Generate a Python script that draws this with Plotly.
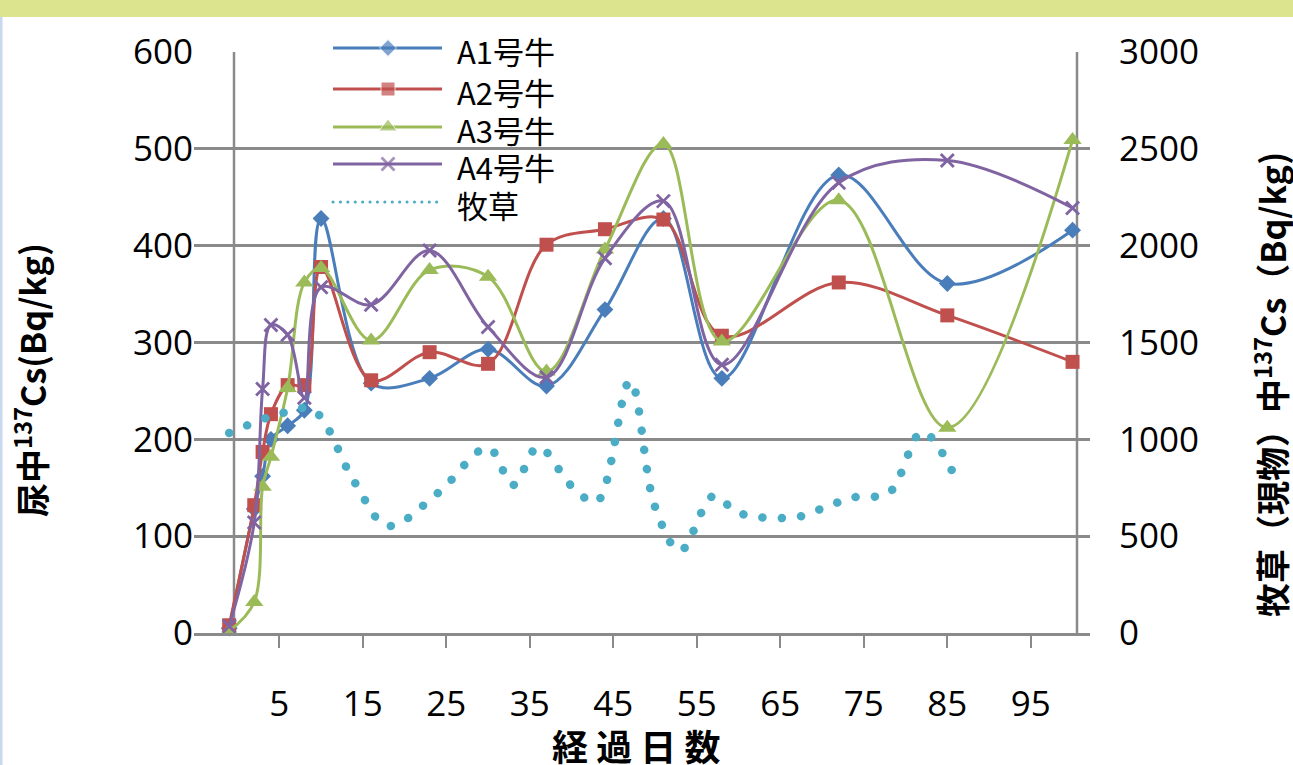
import plotly.graph_objects as go

# ---- data -------------------------------------------------------------
days = [-1, 2, 3, 4, 6, 8, 10, 16, 23, 30, 37, 44, 51, 58, 72, 85, 100]
a1 = [5, 128, 162, 200, 214, 230, 428, 258, 263, 293, 255, 334, 428, 263, 473, 361, 416]
a2 = [8, 132, 187, 226, 256, 256, 378, 261, 290, 278, 401, 417, 427, 307, 362, 328, 280]
a3 = [2, 32, 151, 182, 253, 362, 377, 302, 375, 368, 270, 396, 505, 301, 447, 212, 509]
a4 = [7, 114, 252, 318, 308, 243, 357, 339, 395, 316, 264, 387, 446, 277, 465, 488, 439]

grass_days = [-1, 5, 9, 14, 18, 24, 30, 33, 36, 40, 43, 47, 50, 53, 57, 60, 67, 71, 74, 78, 82, 86]
grass_vals = [1033, 1131, 1152, 780, 553, 723, 956, 764, 961, 759, 677, 1302, 651, 424, 708, 620,
              599, 661, 702, 723, 1038, 800]

cow_names = ["A1号牛", "A2号牛", "A3号牛", "A4号牛"]
grass_name = "牧草"
x_ticks = [5, 15, 25, 35, 45, 55, 65, 75, 85, 95]
left_ticks = [0, 100, 200, 300, 400, 500, 600]
right_ticks = [0, 500, 1000, 1500, 2000, 2500, 3000]

# ---- styling ----------------------------------------------------------
colors = ["#4a7ebb", "#c0504d", "#9bbb59", "#8064a2"]
grass_color = "#4bacc6"
symbols = ["diamond", "square", "triangle-up", "x-thin"]
sizes = [13, 14, 16, 13]
grid_color = "#8a8a8a"
latin = "Open Sans, Noto Sans CJK JP, sans-serif"
cjk = "Noto Sans CJK JP, sans-serif"

W, H = 1293, 765
L, R, T, B = 194, 203, 20, 132
plot_w, plot_h = W - L - R, H - T - B


def px_x(px):
    return (px - L) / plot_w


def px_y(py):
    return (H - B - py) / plot_h


main_top = px_y(52)

fig = go.Figure()

for name, vals, c, s, sz in zip(cow_names, [a1, a2, a3, a4], colors, symbols, sizes):
    mk = dict(symbol=s, size=sz, color=c)
    if s == "x-thin":
        mk["line"] = dict(width=2.8, color=c)
    fig.add_trace(go.Scatter(
        x=days, y=vals, name=name, mode="lines+markers",
        line=dict(color=c, width=3, shape="spline", smoothing=1),
        marker=mk, cliponaxis=False, showlegend=False))

fig.add_trace(go.Scatter(
    x=grass_days, y=grass_vals, name=grass_name, mode="lines", yaxis="y2",
    line=dict(color=grass_color, width=8.5, shape="spline", smoothing=1, dash="0.1px,19.2px"),
    showlegend=False))

# ---- legend keys on a free-standing pixel-scaled axis -----------------
rows = [48, 89, 127, 164, 202]
key_x0, key_mid, key_x1, text_x = 333, 388, 442, 455
for i, (name, c, s, sz) in enumerate(zip(cow_names, colors, symbols, sizes)):
    mk = dict(symbol=s, size=[0, sz, 0], color=c)
    if s == "x-thin":
        mk["line"] = dict(width=2.8, color=c)
    fig.add_trace(go.Scatter(
        x=[key_x0, key_mid, key_x1], y=[rows[i]] * 3, xaxis="x3", yaxis="y3",
        mode="lines+markers", line=dict(color=c, width=3), marker=mk,
        cliponaxis=False, showlegend=False, hoverinfo="skip"))
fig.add_trace(go.Scatter(
    x=[key_x0, key_x1], y=[rows[4]] * 2, xaxis="x3", yaxis="y3", mode="lines",
    line=dict(color=grass_color, width=3, dash="0.1px,7.3px"),
    showlegend=False, hoverinfo="skip"))

annotations = []
for name, yy in zip(cow_names + [grass_name], rows):
    annotations.append(dict(x=text_x, y=yy + 2, xref="x3", yref="y3", text=name,
                            showarrow=False, xanchor="left", yanchor="middle",
                            font=dict(family=cjk, size=31, color="#000")))

# axis titles
annotations.append(dict(x=px_x(30), y=px_y(380), xref="paper", yref="paper",
                        xanchor="center", yanchor="middle",
                        text="<b>尿中<sup>137</sup>Cs(Bq/kg)</b>", textangle=-90,
                        showarrow=False, font=dict(family=cjk, size=34, color="#000")))
annotations.append(dict(x=px_x(1270), y=px_y(385), xref="paper", yref="paper",
                        xanchor="center", yanchor="middle",
                        text="<b>牧草（現物）中<sup>137</sup>Cs（Bq/kg)</b>", textangle=-90,
                        showarrow=False, font=dict(family=cjk, size=34, color="#000")))
annotations.append(dict(x=px_x(636), y=px_y(745), xref="paper", yref="paper",
                        xanchor="center", yanchor="middle",
                        text="<b>経 過 日 数</b>", showarrow=False,
                        font=dict(family=cjk, size=36, color="#000")))

shapes = [
    # page frame accents
    dict(type="rect", xref="paper", yref="paper", x0=px_x(0), x1=px_x(W), y0=px_y(17), y1=px_y(0),
         fillcolor="#dde48e", line=dict(width=0), layer="below"),
    dict(type="rect", xref="paper", yref="paper", x0=px_x(0), x1=px_x(2.5), y0=px_y(H), y1=px_y(17),
         fillcolor="#c8d8ee", line=dict(width=0), layer="below"),
    # vertical axis lines
    dict(type="line", xref="paper", yref="paper", x0=px_x(234), x1=px_x(234), y0=0, y1=main_top,
         line=dict(color=grid_color, width=2.5), layer="below"),
    dict(type="line", xref="paper", yref="paper", x0=px_x(1077), x1=px_x(1077), y0=0, y1=main_top,
         line=dict(color=grid_color, width=2.5), layer="below"),
]

fig.update_layout(
    width=W, height=H, margin=dict(l=L, r=R, t=T, b=B, autoexpand=False),
    paper_bgcolor="white", plot_bgcolor="rgba(0,0,0,0)",
    showlegend=False,
    xaxis=dict(range=[-5.215, 102.09], tickvals=x_ticks, ticks="outside", ticklen=12,
               tickwidth=2, tickcolor=grid_color, showgrid=False, zeroline=False,
               showline=True, linecolor=grid_color, linewidth=2.5,
               ticklabelstandoff=26, automargin=False,
               tickfont=dict(family=latin, size=35, color="#000")),
    yaxis=dict(range=[0, 600], tickvals=left_ticks, domain=[0, main_top],
               showgrid=True, gridcolor=grid_color, gridwidth=2.5, zeroline=False,
               ticks="", ticklabelstandoff=0, automargin=False,
               tickfont=dict(family=latin, size=35, color="#000")),
    yaxis2=dict(range=[0, 3000], tickvals=right_ticks, overlaying="y", side="right",
                showgrid=False, zeroline=False, ticks="", ticklabelstandoff=28,
                automargin=False,
                tickfont=dict(family=latin, size=35, color="#000")),
    xaxis3=dict(range=[L, W - R], domain=[0, 1], anchor="y3", visible=False, automargin=False),
    yaxis3=dict(range=[H - B, T], domain=[0, 1], anchor="x3", visible=False, automargin=False),
    annotations=annotations,
    shapes=shapes,
)

# give the dotted strokes round caps so dashes render as round dots
round_caps = """
var gd = document.getElementById('{plot_id}');
function roundDots() {
  gd.querySelectorAll('path.js-line').forEach(function (p) {
    var d = p.style.strokeDasharray;
    if (d && d !== 'none') { p.style.strokeLinecap = 'round'; }
  });
}
roundDots();
if (gd.on) { gd.on('plotly_afterplot', roundDots); }
"""

fig.write_html("out.html", post_script=round_caps, config={"displayModeBar": False})
